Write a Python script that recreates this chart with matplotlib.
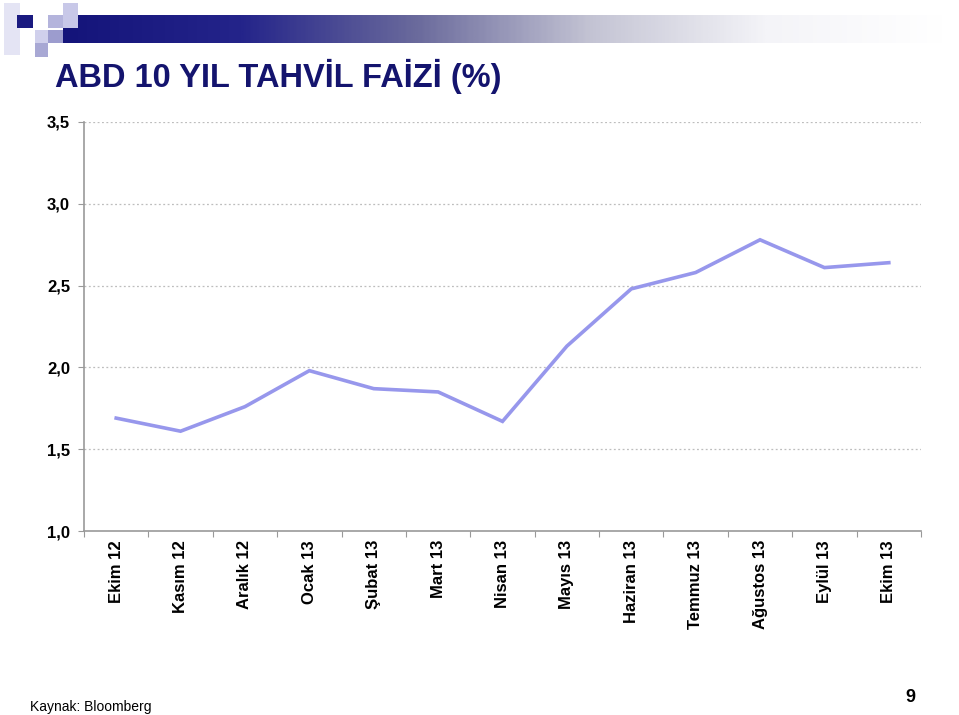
import numpy as np
import matplotlib.pyplot as plt
from matplotlib.colors import LinearSegmentedColormap
from matplotlib.patches import Rectangle

plt.rcParams['font.family'] = ['Liberation Sans', 'DejaVu Sans']

months = ['Ekim 12', 'Kasım 12', 'Aralık 12', 'Ocak 13', 'Şubat 13', 'Mart 13', 'Nisan 13',
          'Mayıs 13', 'Haziran 13', 'Temmuz 13', 'Ağustos 13', 'Eylül 13', 'Ekim 13']
yields = [1.69, 1.61, 1.76, 1.98, 1.87, 1.85, 1.67, 2.13, 2.48, 2.58, 2.78, 2.61, 2.64]
yticks = [1.0, 1.5, 2.0, 2.5, 3.0, 3.5]

W, H = 959, 715
fig = plt.figure(figsize=(W / 100, H / 100), dpi=100)

# header decoration (pixel coordinates)
deco = fig.add_axes([0, 0, 1, 1], zorder=0)
deco.set_xlim(0, W)
deco.set_ylim(H, 0)
deco.axis('off')

cmap = LinearSegmentedColormap.from_list('hdr', ['#14147a', '#24248a', '#6a6a9c', '#c4c4d4', '#f4f4f8', '#ffffff'])
grad = np.linspace(0, 1, 400).reshape(1, -1)
deco.imshow(grad, cmap=cmap, extent=[63, 945, 43, 15], aspect='auto', zorder=1)

squares = [
    (4, 3, 16, 52, '#e4e4f4'),
    (17, 15, 16, 13, '#1a1a80'),
    (48, 15, 15, 13, '#b4b4dc'),
    (63, 3, 15, 25, '#c8c8e8'),
    (35, 30, 13, 13, '#d0d0ec'),
    (48, 30, 15, 13, '#9c9cce'),
    (35, 43, 13, 14, '#a8a8d4'),
]
for x, y, w, h, c in squares:
    deco.add_patch(Rectangle((x, y), w, h, color=c, lw=0, zorder=2))

fig.text(55 / W, 1 - 76 / H, 'ABD 10 YIL TAHVİL FAİZİ (%)', fontsize=23.5, fontweight='bold',
         color='#14146e', va='center', ha='left')

ax = fig.add_axes([84 / W, 1 - 531 / H, (921 - 84) / W, (531 - 122) / H], zorder=2)
ax.patch.set_alpha(0)
x = np.arange(len(months))
ax.plot(x, yields, color='#9797ec', lw=2.6, solid_joinstyle='miter')

ax.set_xlim(-0.5, len(months) - 0.5)
ax.set_ylim(1.0, 3.5)
ax.set_yticks(yticks)
ax.set_yticklabels([f'{v:.1f}'.replace('.', ',') for v in yticks], fontsize=12, fontweight='bold')
for v in yticks[1:]:
    ax.axhline(v, color='#bdbdbd', lw=0.9, ls=(0, (1.5, 2)), zorder=0)

ax.set_xticks(np.arange(len(months) + 1) - 0.5)
ax.set_xticklabels([])
ax.tick_params(axis='x', length=4, color='#999999', direction='out')
ax.tick_params(axis='y', length=4, color='#999999', direction='out', pad=6)
for i, m in enumerate(months):
    ax.text(i, -0.022, m, transform=ax.get_xaxis_transform(), rotation=90, ha='center', va='top',
            fontsize=12, fontweight='bold')

for s in ['top', 'right']:
    ax.spines[s].set_visible(False)
for s in ['left', 'bottom']:
    ax.spines[s].set_color('#999999')
    ax.spines[s].set_linewidth(1.2)

fig.text(30 / W, 1 - 707 / H, 'Kaynak: Bloomberg', fontsize=10, va='center', ha='left')
fig.text(910 / W, 1 - 697 / H, '9', fontsize=13, fontweight='bold', va='center', ha='center')

fig.savefig('out.png', dpi=100)
